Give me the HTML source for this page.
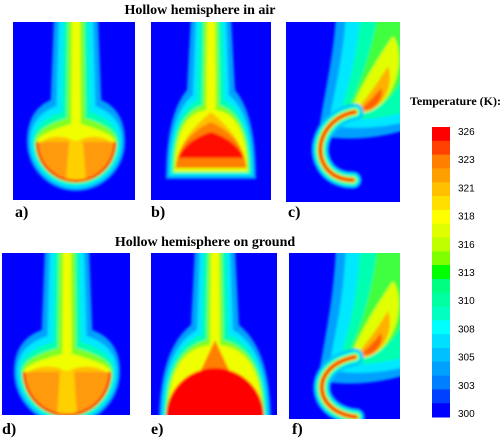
<!DOCTYPE html>
<html><head><meta charset="utf-8"><style>
html,body{margin:0;background:#fff;width:500px;height:443px;overflow:hidden;font-family:"Liberation Serif",serif}
svg{position:absolute;left:0;top:0;display:block}
</style></head><body>
<svg id="s" width="500" height="443">
<defs>
<filter id="bl" x="-20%" y="-20%" width="140%" height="140%"><feGaussianBlur stdDeviation="1.3"/></filter>
<clipPath id="ca"><rect x="13" y="22" width="122" height="178"/></clipPath>
<clipPath id="cb"><rect x="151" y="22" width="120" height="178"/></clipPath>
<clipPath id="cc"><rect x="286" y="22" width="114" height="180"/></clipPath>
<clipPath id="cd"><rect x="2" y="253" width="128" height="162"/></clipPath>
<clipPath id="ce"><rect x="151" y="253" width="126" height="162"/></clipPath>
<clipPath id="cf"><rect x="289" y="253" width="111" height="166"/></clipPath>
</defs>
<text x="200" y="14" text-anchor="middle" font-weight="bold" font-size="14">Hollow hemisphere in air</text>
<text x="205" y="246" text-anchor="middle" font-weight="bold" font-size="14">Hollow hemisphere on ground</text>
<text x="15" y="217" font-weight="bold" font-size="16">a)</text>
<text x="151" y="217" font-weight="bold" font-size="16">b)</text>
<text x="288" y="217" font-weight="bold" font-size="16">c)</text>
<text x="2" y="434" font-weight="bold" font-size="16">d)</text>
<text x="151" y="434" font-weight="bold" font-size="16">e)</text>
<text x="292" y="434" font-weight="bold" font-size="16">f)</text>
<text x="410" y="105" font-weight="bold" font-size="12">Temperature (K):</text>
<g id="leg"></g>
</svg>
<script>
const ticks=["326","323","321","318","316","313","310","308","305","303","300"];
const bandColors=["#ff0000","#ff4000","#ff8000","#ffa000","#ffc000","#ffdf00","#ffff00","#dfff00","#bfff00","#80ff00","#00ff00","#00ff80","#00ffa0","#00ffc0","#00ffff","#00dfff","#00c0ff","#00a0ff","#0080ff","#0040ff","#0000ff"];
const NS="http://www.w3.org/2000/svg";
const S=document.getElementById('s');
function el(t,a,p){const e=document.createElementNS(NS,t);for(const k in a)e.setAttribute(k,a[k]);(p||S).appendChild(e);return e;}
const leg=document.getElementById('leg');
const top0=127,bot=417,bh=(bot-top0)/bandColors.length;
bandColors.forEach((c,i)=>{const r=el('rect',{x:432,y:top0+i*bh,width:18,height:bh+0.5,fill:c},leg);

});
ticks.forEach((t,i)=>{const y=top0+4+i*(bot-top0-8)/(ticks.length-1);
const tx=el('text',{x:458,y:y+4,'font-size':10,'font-family':'Liberation Sans, sans-serif'},leg);tx.textContent=t;

});

const L=["#00a0ff","#00e8ff","#00ffb0","#80ff20","#f0ff00"];
function panel(name,clip,x,y,w,h){const g=el('g',{'clip-path':'url(#'+clip+')'});


el('rect',{x,y,width:w,height:h,fill:'#0000ff'},g);
return el('g',{filter:'url(#bl)'},g);}
function bulbPlume(g,cx,y0,neck,cy,r,hws){
 const Rs=[r+10,r+7,r+4,r+2,r];
 L.forEach((c,i)=>{const hw=hws[i],R=Rs[i],ny=neck+i*6;
  el('path',{d:`M${cx-hw} ${y0-5}L${cx+hw} ${y0-5}L${cx+hw*1.15} ${ny}Q${cx+R} ${ny+10} ${cx+R} ${cy}A${R} ${R} 0 0 1 ${cx-R} ${cy}Q${cx-R} ${ny+10} ${cx-hw*1.15} ${ny}Z`,fill:c},g);});
 el('path',{d:`M${cx-r} ${cy}A${r} ${r} 0 0 0 ${cx+r} ${cy}Z`,fill:'#ff9a10'},g);
 el('path',{d:`M${cx-r+4} ${cy}Q${cx-r*0.6} ${cy-8} ${cx-8} ${cy-4}Q${cx} ${cy+2} ${cx+8} ${cy-4}Q${cx+r*0.6} ${cy-8} ${cx+r-4} ${cy}Z`,fill:'#ffc000'},g);
 el('path',{d:`M${cx-7} ${cy}L${cx+7} ${cy}L${cx+10} ${cy+r}L${cx-10} ${cy+r}Z`,fill:'#ffd000'},g);
 el('path',{d:`M${cx-r} ${cy}A${r} ${r} 0 0 0 ${cx+r} ${cy}`,fill:'none',stroke:'#ff0000','stroke-width':2.5},g);}
let g=panel('panel-a','ca',13,22,122,178);
bulbPlume(g,76,22,100,142,39,[22,17,12,8,4]);
g=panel('panel-d','cd',2,253,128,162);
bulbPlume(g,67,253,330,372,43,[22,17,12,8,4]);
function bell(g,cx,y0,bw,by,top,hws,ext){L.forEach((c,i)=>{const e=ext[i];
 el('path',{d:`M${cx-hws[i]} ${y0-5}L${cx+hws[i]} ${y0-5}L${cx+hws[i]*1.2} ${top+i*5}Q${cx+bw+e} ${top+25} ${cx+bw+e} ${by+e}L${cx-bw-e} ${by+e}Q${cx-bw-e} ${top+25} ${cx-hws[i]*1.2} ${top+i*5}Z`,fill:c},g);});}
g=panel('panel-b','cb',151,22,120,178);
bell(g,211,22,39,173,90,[20,15,11,7,4],[6,3,1,-1,-3]);
el('path',{d:'M175 172Q176 140 211 112Q246 140 247 172Z',fill:'#ffc000'},g);
el('path',{d:'M176 168Q178 138 211 122Q244 138 246 168Z',fill:'#ff8000'},g);
el('path',{d:'M178 158Q186 140 211 132Q236 140 244 158Z',fill:'#ff1000'},g);
el('path',{d:'M174 172L248 172L247 168L175 168Z',fill:'#e0ff00'},g);
g=panel('panel-e','ce',151,253,126,162);
bell(g,215,253,50,418,325,[20,15,11,7,4],[6,3,1,-1,-3]);
el('path',{d:'M200 372Q208 355 215 340Q222 355 230 372Z',fill:'#ff8000'},g);
el('circle',{cx:215,cy:417,r:49,fill:'#ff0000'},g);
function hook(name,clip,x,y,w,h,p,dy){const g=panel(name,clip,x,y,w,h);
 const t=(s)=>s.replace(/(-?\d+(?:\.\d+)?) (-?\d+(?:\.\d+)?)/g,(m,a,b)=>a+' '+Math.max(+b+dy,y-8));
 const lay=[
  ["#00a0ff","M318 135 C324 95 334 55 336 -300 L405 -300 L405 130 C380 138 345 142 318 135Z"],
  ["#00e8ff","M328 125 C336 88 344 50 346 -300 L405 -300 L405 122 C382 128 352 130 328 125Z"],
  ["#00ffb0","M338 118 C350 84 358 50 360 -300 L405 -300 L405 112 C385 118 360 121 338 118Z"],
  ["#40ff40","M346 114 C360 84 372 50 378 -300 L405 -300 L404 70 C398 98 372 117 346 114Z"],
  ["#e0ff00","M350 113 C360 86 378 58 393 36 C403 50 401 85 381 104 C371 113 359 115 350 113Z"],
  ["#ffb000","M355 112 C365 100 377 84 388 66 C393 80 388 98 375 108 C368 113 360 113 355 112Z"],
  ["#ff6000","M359 111 C367 104 375 96 381 88 C384 96 379 104 371 109Z"]];
 lay.forEach(([c,d])=>el('path',{d:t(d),fill:c},g));
 [["#00c0ff",17],["#00ffd0",12],["#a0ff00",7],["#ff9000",4.5]].forEach(([c,sw])=>el('path',{d:p,fill:'none',stroke:c,'stroke-width':sw,'stroke-linecap':'round'},g));
 el('path',{d:p,fill:'none',stroke:'#ff0000','stroke-width':2.2,'stroke-linecap':'round'},g);}
hook('panel-c','cc',286,22,114,180,'M355 112C330 116 315 140 322 160C328 176 342 180 353 180',0);
hook('panel-f','cf',289,253,111,166,'M355 357C330 362 318 378 323 395C328 410 345 416 356 417',245);
</script>
</body></html>
